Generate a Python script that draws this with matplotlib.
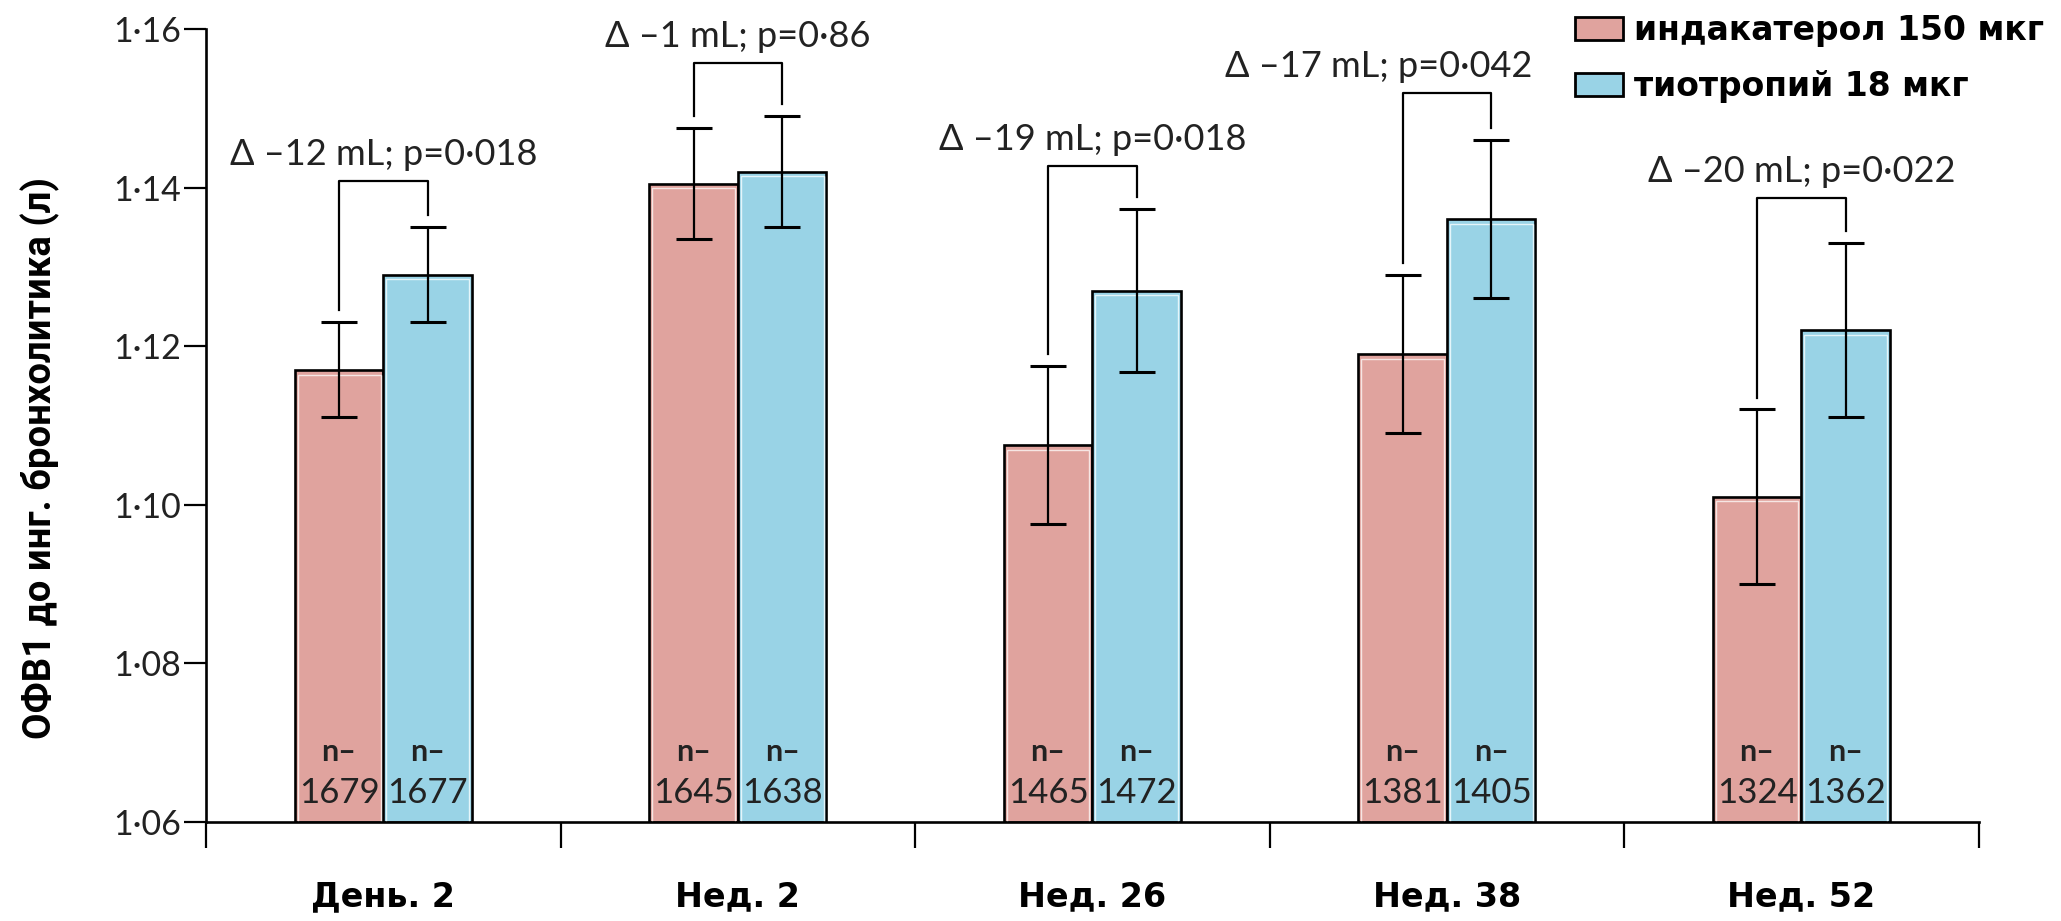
import numpy as np
import matplotlib
matplotlib.use("Agg")
import matplotlib.pyplot as plt
from matplotlib.patches import Patch

plt.rcParams["font.family"] = ["Lato", "Noto Sans", "DejaVu Sans"]

# данные
categories = ["День. 2", "Нед. 2", "Нед. 26", "Нед. 38", "Нед. 52"]
indacaterol = [1.117, 1.1405, 1.1075, 1.119, 1.101]
indacaterol_err = [0.006, 0.007, 0.010, 0.010, 0.011]
tiotropium = [1.129, 1.142, 1.127, 1.136, 1.122]
tiotropium_err = [0.006, 0.007, 0.0103, 0.010, 0.011]
n_indacaterol = [1679, 1645, 1465, 1381, 1324]
n_tiotropium = [1677, 1638, 1472, 1405, 1362]
bracket_top = [1.1408, 1.1557, 1.1427, 1.1519, 1.1387]
diff_labels = [
    "Δ –12 mL; p=0·018",
    "Δ –1 mL; p=0·86",
    "Δ –19 mL; p=0·018",
    "Δ –17 mL; p=0·042",
    "Δ –20 mL; p=0·022",
]
# сдвиг подписи влево (пт), чтобы не налезала на легенду
label_shift = [0, 0, 0, -49, 0]
yticks = [1.06, 1.08, 1.10, 1.12, 1.14, 1.16]
legend_labels = ["индакатерол 150 мкг", "тиотропий 18 мкг"]

PINK = "#E0A39E"
BLUE = "#99D3E6"
W = 0.25
GAP = 0.0015

fig = plt.figure(figsize=(20.61, 9.21), dpi=100)
ax = fig.add_axes([0.1, 0.108, 0.86, 0.8605])

x = np.arange(len(categories))
xp = x - W / 2
xb = x + W / 2

ax.bar(xp, np.array(indacaterol) - 1.06, width=W, bottom=1.06, color=PINK,
       edgecolor="black", linewidth=1.9, zorder=2)
ax.bar(xb, np.array(tiotropium) - 1.06, width=W, bottom=1.06, color=BLUE,
       edgecolor="black", linewidth=1.9, zorder=2)
# тонкая светлая линия внутри контура
ax.bar(xp, np.array(indacaterol) - 1.06 - 0.0006, width=W - 0.016, bottom=1.06,
       fill=False, edgecolor="#f6e6e4", linewidth=1.0, zorder=2.5)
ax.bar(xb, np.array(tiotropium) - 1.06 - 0.0006, width=W - 0.016, bottom=1.06,
       fill=False, edgecolor="#e4f5fa", linewidth=1.0, zorder=2.5)

ax.errorbar(xp, indacaterol, yerr=indacaterol_err, fmt="none", ecolor="black",
            elinewidth=1.6, capsize=13, capthick=2.2, zorder=3)
ax.errorbar(xb, tiotropium, yerr=tiotropium_err, fmt="none", ecolor="black",
            elinewidth=1.6, capsize=13, capthick=2.2, zorder=3)

# скобки и подписи разницы
for i in range(len(categories)):
    top = bracket_top[i]
    y_left = indacaterol[i] + indacaterol_err[i] + GAP
    y_right = tiotropium[i] + tiotropium_err[i] + GAP
    ax.plot([xp[i], xp[i], xb[i], xb[i]], [y_left, top, top, y_right],
            color="black", linewidth=1.6, zorder=3)
    ax.annotate(diff_labels[i], xy=(x[i], top), xytext=(label_shift[i], 11.5),
                textcoords="offset points", ha="center", va="baseline",
                fontsize=26, color="#222222")

# n= внутри столбцов
for xs, ns in ((xp, n_indacaterol), (xb, n_tiotropium)):
    for xi, n in zip(xs, ns):
        ax.annotate("n–", xy=(xi, 1.06), xytext=(0, 50), textcoords="offset points",
                    ha="center", va="center", fontsize=22, fontweight="bold",
                    color="#222222", zorder=4)
        ax.annotate(str(n), xy=(xi, 1.06), xytext=(0, 20.5), textcoords="offset points",
                    ha="center", va="center", fontsize=25, color="#222222", zorder=4)

ax.set_xlim(-0.5, len(categories) - 0.5)
ax.set_ylim(1.06, 1.16)
ax.set_yticks(yticks)
ax.set_yticklabels([f"{v:.2f}".replace(".", "·") for v in yticks], fontsize=24.5,
                   color="#222222")
ax.set_xticks(np.arange(len(categories) + 1) - 0.5)
ax.set_xticklabels([])
ax.set_xticks(x, minor=True)
ax.set_xticklabels(categories, minor=True, fontsize=24, fontweight="bold",
                   family="DejaVu Sans")

ax.tick_params(axis="y", direction="out", length=16, width=1.6, pad=2)
ax.tick_params(axis="x", which="major", direction="out", length=19, width=1.6)
ax.tick_params(axis="x", which="minor", length=0, pad=42)

for side in ("top", "right"):
    ax.spines[side].set_visible(False)
for side in ("left", "bottom"):
    ax.spines[side].set_linewidth(1.9)

fig.text(40 / 2061, 1 - 458 / 921, "ОФВ1 до инг. бронхолитика (л)", rotation=90,
         ha="center", va="center", fontsize=27.5, fontweight="bold",
         family=["Liberation Sans Narrow", "Roboto", "DejaVu Sans"])

handles = [Patch(facecolor=PINK, edgecolor="black", linewidth=2),
           Patch(facecolor=BLUE, edgecolor="black", linewidth=2)]
fig.legend(handles, legend_labels, loc="upper right", bbox_to_anchor=(1.003, 1.01),
           frameon=False, prop={"family": "DejaVu Sans", "size": 23.8, "weight": "bold"},
           handlelength=1.45, handleheight=0.7, handletextpad=0.33,
           labelspacing=0.7, borderpad=0.2)

fig.savefig("out.png", dpi=100)
